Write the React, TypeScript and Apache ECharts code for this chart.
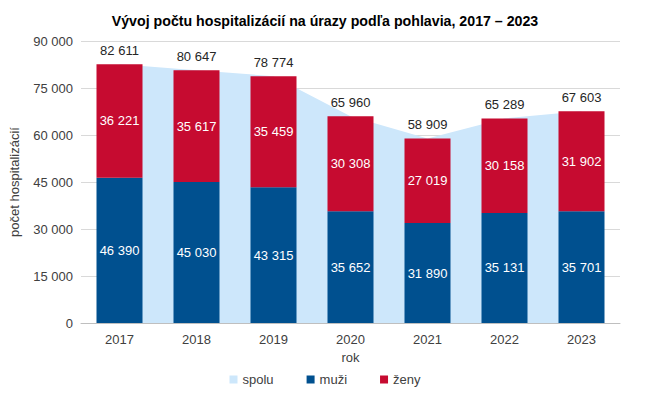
import React, { useEffect, useRef } from "react";
import * as echarts from "echarts";

const years = ["2017", "2018", "2019", "2020", "2021", "2022", "2023"];
const muzi = [46390, 45030, 43315, 35652, 31890, 35131, 35701];
const zeny = [36221, 35617, 35459, 30308, 27019, 30158, 31902];
const spolu = [82611, 80647, 78774, 65960, 58909, 65289, 67603];

const fmt = (v: number) => String(v).replace(/\B(?=(\d{3})+(?!\d))/g, " ");

export default function App() {
  const ref = useRef<HTMLDivElement>(null);
  useEffect(() => {
    const chart = echarts.init(ref.current!, null, { renderer: "svg" });
    const font = "Liberation Sans, Arial, sans-serif";
    chart.setOption({
      animation: false,
      textStyle: { fontFamily: font },
      title: {
        text: "Vývoj počtu hospitalizácií na úrazy podľa pohlavia, 2017 – 2023",
        left: "center",
        top: 9,
        textStyle: { fontSize: 14.2, fontWeight: "bold", color: "#000", fontFamily: font },
      },
      legend: {
        bottom: 10,
        left: "center",
        itemWidth: 8,
        itemHeight: 8,
        itemGap: 33,
        icon: "rect",
        textStyle: { fontSize: 13, color: "#404040", fontFamily: font },
        data: ["spolu", "muži", "ženy"],
      },
      grid: { left: 79, right: 30, top: 41, bottom: 78 },
      xAxis: {
        type: "category",
        data: years,
        name: "rok",
        nameLocation: "middle",
        nameGap: 27,
        nameTextStyle: { fontSize: 13, color: "#404040" },
        axisLine: { lineStyle: { color: "#bfbfbf" } },
        axisTick: { show: false },
        axisLabel: { fontSize: 13, color: "#404040", margin: 10 },
      },
      yAxis: {
        type: "value",
        min: 0,
        max: 90000,
        interval: 15000,
        name: "počet hospitalizácií",
        nameLocation: "middle",
        nameGap: 60,
        nameTextStyle: { fontSize: 13, color: "#404040" },
        axisLabel: { fontSize: 13, color: "#404040", formatter: (v: number) => fmt(v) },
        splitLine: { lineStyle: { color: "#d9d9d9" } },
      },
      series: [
        {
          name: "spolu",
          type: "line",
          data: spolu,
          symbol: "circle",
          symbolSize: 0,
          showSymbol: true,
          lineStyle: { width: 0, color: "#cde7fb" },
          itemStyle: { color: "#cde7fb" },
          areaStyle: { color: "#cde7fb", opacity: 1 },
          z: 1,
          label: {
            show: true,
            position: "top",
            distance: 7,
            fontSize: 13,
            color: "#262626",
            formatter: (p: any) => fmt(p.value),
          },
        },
        {
          name: "muži",
          type: "bar",
          stack: "a",
          data: muzi,
          barWidth: 46,
          itemStyle: { color: "#00508f" },
          z: 2,
          label: {
            show: true,
            position: "inside",
            fontSize: 13,
            color: "#fff",
            formatter: (p: any) => fmt(p.value),
          },
        },
        {
          name: "ženy",
          type: "bar",
          stack: "a",
          data: zeny,
          barWidth: 46,
          itemStyle: { color: "#c60b30" },
          z: 2,
          label: {
            show: true,
            position: "inside",
            fontSize: 13,
            color: "#fff",
            formatter: (p: any) => fmt(p.value),
          },
        },
      ],
    });
    return () => chart.dispose();
  }, []);
  return <div ref={ref} style={{ width: 650, height: 401, position: "absolute", left: 0, top: 0 }} />;
}
